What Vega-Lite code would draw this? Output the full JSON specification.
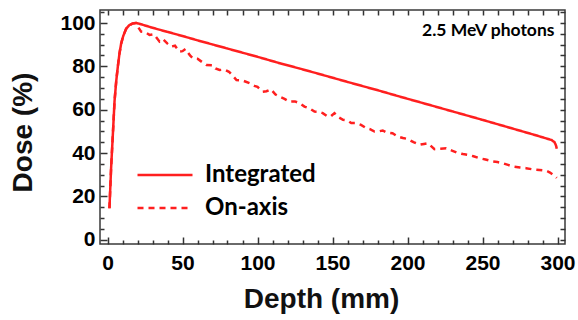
{
  "$schema": "https://vega.github.io/schema/vega-lite/v6.json",
  "width": 465,
  "height": 234,
  "autosize": {"type": "none"},
  "padding": {"left": 100, "top": 10, "right": 13, "bottom": 76},
  "background": "white",
  "config": {
    "view": {"stroke": "#3a3a3a", "strokeWidth": 1.5},
    "axis": {
      "domain": false,
      "grid": false,
      "labelFont": "Liberation Sans",
      "labelFontWeight": "bold",
      "labelFontSize": 21,
      "labelColor": "#000000",
      "titleFont": "Liberation Sans",
      "titleFontWeight": "bold",
      "titleFontSize": 28,
      "titleColor": "#111111"
    },
    "legend": {
      "labelFont": "Lato",
      "labelFontWeight": "bold",
      "labelFontSize": 24,
      "labelColor": "#000000"
    }
  },
  "datasets": {
    "integrated": [
      {"depth": 1.3, "dose": 14.5, "series": "Integrated"},
      {"depth": 2.4, "dose": 33, "series": "Integrated"},
      {"depth": 3.6, "dose": 49, "series": "Integrated"},
      {"depth": 4.7, "dose": 64, "series": "Integrated"},
      {"depth": 5.8, "dose": 73, "series": "Integrated"},
      {"depth": 6.9, "dose": 80, "series": "Integrated"},
      {"depth": 8, "dose": 86, "series": "Integrated"},
      {"depth": 9.1, "dose": 90.5, "series": "Integrated"},
      {"depth": 10.5, "dose": 94, "series": "Integrated"},
      {"depth": 12.4, "dose": 97.3, "series": "Integrated"},
      {"depth": 14.5, "dose": 99, "series": "Integrated"},
      {"depth": 16.9, "dose": 99.8, "series": "Integrated"},
      {"depth": 19, "dose": 100, "series": "Integrated"},
      {"depth": 21, "dose": 99.7, "series": "Integrated"},
      {"depth": 30, "dose": 97.8, "series": "Integrated"},
      {"depth": 40, "dose": 95.9, "series": "Integrated"},
      {"depth": 50, "dose": 94, "series": "Integrated"},
      {"depth": 60, "dose": 92, "series": "Integrated"},
      {"depth": 70, "dose": 90.1, "series": "Integrated"},
      {"depth": 80, "dose": 88.2, "series": "Integrated"},
      {"depth": 90, "dose": 86.3, "series": "Integrated"},
      {"depth": 100, "dose": 84.4, "series": "Integrated"},
      {"depth": 115, "dose": 81.4, "series": "Integrated"},
      {"depth": 128, "dose": 79, "series": "Integrated"},
      {"depth": 140, "dose": 76.7, "series": "Integrated"},
      {"depth": 160, "dose": 72.8, "series": "Integrated"},
      {"depth": 181, "dose": 68.8, "series": "Integrated"},
      {"depth": 195, "dose": 66, "series": "Integrated"},
      {"depth": 210, "dose": 63.1, "series": "Integrated"},
      {"depth": 230, "dose": 59.2, "series": "Integrated"},
      {"depth": 250, "dose": 55.3, "series": "Integrated"},
      {"depth": 270, "dose": 51.3, "series": "Integrated"},
      {"depth": 285, "dose": 48.3, "series": "Integrated"},
      {"depth": 296, "dose": 46, "series": "Integrated"},
      {"depth": 298, "dose": 45, "series": "Integrated"},
      {"depth": 299, "dose": 43.5, "series": "Integrated"},
      {"depth": 299.5, "dose": 42, "series": "Integrated"}
    ],
    "onaxis": [
      {"depth": 1.3, "dose": 14.5, "series": "On-axis"},
      {"depth": 2.4, "dose": 33, "series": "On-axis"},
      {"depth": 3.6, "dose": 49, "series": "On-axis"},
      {"depth": 4.7, "dose": 64, "series": "On-axis"},
      {"depth": 5.8, "dose": 73, "series": "On-axis"},
      {"depth": 6.9, "dose": 80, "series": "On-axis"},
      {"depth": 8, "dose": 86, "series": "On-axis"},
      {"depth": 9.1, "dose": 90.5, "series": "On-axis"},
      {"depth": 10.5, "dose": 94, "series": "On-axis"},
      {"depth": 12.4, "dose": 97.3, "series": "On-axis"},
      {"depth": 14.5, "dose": 99, "series": "On-axis"},
      {"depth": 16.9, "dose": 99.8, "series": "On-axis"},
      {"depth": 19, "dose": 100, "series": "On-axis"},
      {"depth": 21, "dose": 97.5, "series": "On-axis"},
      {"depth": 22.4, "dose": 96, "series": "On-axis"},
      {"depth": 25, "dose": 95.8, "series": "On-axis"},
      {"depth": 28, "dose": 94.5, "series": "On-axis"},
      {"depth": 31, "dose": 94.8, "series": "On-axis"},
      {"depth": 34.7, "dose": 91.4, "series": "On-axis"},
      {"depth": 37, "dose": 92.5, "series": "On-axis"},
      {"depth": 40, "dose": 90.5, "series": "On-axis"},
      {"depth": 42.4, "dose": 89.1, "series": "On-axis"},
      {"depth": 45, "dose": 89.5, "series": "On-axis"},
      {"depth": 48, "dose": 86.8, "series": "On-axis"},
      {"depth": 50, "dose": 87, "series": "On-axis"},
      {"depth": 52, "dose": 88, "series": "On-axis"},
      {"depth": 55, "dose": 85, "series": "On-axis"},
      {"depth": 57, "dose": 83.7, "series": "On-axis"},
      {"depth": 60, "dose": 83.5, "series": "On-axis"},
      {"depth": 63, "dose": 82, "series": "On-axis"},
      {"depth": 66, "dose": 80.6, "series": "On-axis"},
      {"depth": 70, "dose": 80.5, "series": "On-axis"},
      {"depth": 72, "dose": 79, "series": "On-axis"},
      {"depth": 74.7, "dose": 78.3, "series": "On-axis"},
      {"depth": 78, "dose": 78.5, "series": "On-axis"},
      {"depth": 81, "dose": 77.5, "series": "On-axis"},
      {"depth": 83, "dose": 76, "series": "On-axis"},
      {"depth": 86, "dose": 73.7, "series": "On-axis"},
      {"depth": 90, "dose": 73.5, "series": "On-axis"},
      {"depth": 94.7, "dose": 72.2, "series": "On-axis"},
      {"depth": 98, "dose": 71, "series": "On-axis"},
      {"depth": 100, "dose": 70.5, "series": "On-axis"},
      {"depth": 103.5, "dose": 68.3, "series": "On-axis"},
      {"depth": 106, "dose": 68.5, "series": "On-axis"},
      {"depth": 109, "dose": 69.4, "series": "On-axis"},
      {"depth": 112, "dose": 67, "series": "On-axis"},
      {"depth": 114.7, "dose": 66, "series": "On-axis"},
      {"depth": 118, "dose": 65, "series": "On-axis"},
      {"depth": 121.3, "dose": 63.7, "series": "On-axis"},
      {"depth": 125, "dose": 63.8, "series": "On-axis"},
      {"depth": 128, "dose": 63, "series": "On-axis"},
      {"depth": 131.3, "dose": 61.4, "series": "On-axis"},
      {"depth": 135, "dose": 60.5, "series": "On-axis"},
      {"depth": 138, "dose": 59.1, "series": "On-axis"},
      {"depth": 141, "dose": 59, "series": "On-axis"},
      {"depth": 143.5, "dose": 58.4, "series": "On-axis"},
      {"depth": 146.9, "dose": 56.8, "series": "On-axis"},
      {"depth": 149, "dose": 57, "series": "On-axis"},
      {"depth": 151.3, "dose": 58.4, "series": "On-axis"},
      {"depth": 154, "dose": 56.5, "series": "On-axis"},
      {"depth": 157, "dose": 55.3, "series": "On-axis"},
      {"depth": 160, "dose": 55, "series": "On-axis"},
      {"depth": 162.5, "dose": 53.8, "series": "On-axis"},
      {"depth": 166, "dose": 53.8, "series": "On-axis"},
      {"depth": 169, "dose": 53, "series": "On-axis"},
      {"depth": 172.5, "dose": 51.5, "series": "On-axis"},
      {"depth": 175, "dose": 51, "series": "On-axis"},
      {"depth": 178, "dose": 49.9, "series": "On-axis"},
      {"depth": 181, "dose": 50, "series": "On-axis"},
      {"depth": 183.5, "dose": 50.4, "series": "On-axis"},
      {"depth": 186, "dose": 49.5, "series": "On-axis"},
      {"depth": 190, "dose": 49.1, "series": "On-axis"},
      {"depth": 193.5, "dose": 47.6, "series": "On-axis"},
      {"depth": 197, "dose": 46.9, "series": "On-axis"},
      {"depth": 200, "dose": 46.5, "series": "On-axis"},
      {"depth": 204, "dose": 45, "series": "On-axis"},
      {"depth": 208, "dose": 43.8, "series": "On-axis"},
      {"depth": 211, "dose": 44.2, "series": "On-axis"},
      {"depth": 213.6, "dose": 44.5, "series": "On-axis"},
      {"depth": 218, "dose": 41.8, "series": "On-axis"},
      {"depth": 222, "dose": 42, "series": "On-axis"},
      {"depth": 225.8, "dose": 42.2, "series": "On-axis"},
      {"depth": 230, "dose": 41, "series": "On-axis"},
      {"depth": 233.6, "dose": 40, "series": "On-axis"},
      {"depth": 237, "dose": 39.5, "series": "On-axis"},
      {"depth": 240, "dose": 39.2, "series": "On-axis"},
      {"depth": 244, "dose": 38.5, "series": "On-axis"},
      {"depth": 248, "dose": 37.6, "series": "On-axis"},
      {"depth": 252, "dose": 37, "series": "On-axis"},
      {"depth": 257, "dose": 36.1, "series": "On-axis"},
      {"depth": 260, "dose": 35.8, "series": "On-axis"},
      {"depth": 263.5, "dose": 35.3, "series": "On-axis"},
      {"depth": 267, "dose": 34.5, "series": "On-axis"},
      {"depth": 270, "dose": 33.8, "series": "On-axis"},
      {"depth": 275, "dose": 33.3, "series": "On-axis"},
      {"depth": 279, "dose": 33, "series": "On-axis"},
      {"depth": 283, "dose": 32.5, "series": "On-axis"},
      {"depth": 286, "dose": 32.3, "series": "On-axis"},
      {"depth": 290, "dose": 32, "series": "On-axis"},
      {"depth": 292.5, "dose": 31.8, "series": "On-axis"},
      {"depth": 295, "dose": 31, "series": "On-axis"},
      {"depth": 298, "dose": 29.5, "series": "On-axis"},
      {"depth": 299.5, "dose": 28.5, "series": "On-axis"}
    ],
    "note": [
      {"depth": 298, "dose": 96.5, "label": "2.5 MeV photons"}
    ]
  },
  "layer": [
    {
      "data": {"name": "integrated"},
      "mark": {"type": "line", "color": "#ff1f1f", "strokeWidth": 2.5},
      "encoding": {
        "x": {
          "field": "depth", "type": "quantitative",
          "scale": {"domain": [-5, 305], "nice": false, "zero": false},
          "axis": {
            "orient": "bottom", "title": "Depth (mm)",
            "values": [0, 50, 100, 150, 200, 250, 300],
            "ticks": true, "tickColor": "#333333", "tickWidth": 1.5,
            "offset": -7, "tickSize": 7, "labelPadding": 8, "titlePadding": 12, "titleX": 221
          }
        },
        "y": {
          "field": "dose", "type": "quantitative",
          "scale": {"domain": [-2, 106], "nice": false, "zero": false},
          "axis": {
            "orient": "left", "title": "Dose (%)",
            "values": [0, 20, 40, 60, 80, 100],
            "ticks": true, "tickColor": "#333333", "tickWidth": 1.5,
            "offset": -7, "tickSize": 7, "labelPadding": 5, "titlePadding": 22, "titleY": 122
          }
        },
        "strokeDash": {
          "field": "series", "type": "nominal",
          "scale": {"domain": ["Integrated", "On-axis"], "range": [[1, 0], [6, 5]]},
          "legend": {
            "orient": "none", "legendX": 53, "legendY": 153,
            "title": null, "symbolType": "M-5,0H5", "symbolSize": 121,
            "symbolStrokeWidth": 2.5, "symbolStrokeColor": "#ff1f1f",
            "labelOffset": 28, "rowPadding": 9
          }
        }
      }
    },
    {
      "data": {"name": "onaxis"},
      "mark": {"type": "line", "color": "#ff1f1f", "strokeWidth": 2.5},
      "encoding": {
        "x": {
          "field": "depth", "type": "quantitative",
          "axis": {
            "orient": "bottom", "title": null, "labels": false,
            "values": [10, 20, 30, 40, 60, 70, 80, 90, 110, 120, 130, 140, 160, 170, 180, 190, 210, 220, 230, 240, 260, 270, 280, 290],
            "ticks": true, "tickColor": "#333333", "tickWidth": 1.5,
            "offset": -4, "tickSize": 4
          }
        },
        "y": {
          "field": "dose", "type": "quantitative",
          "axis": {
            "orient": "left", "title": null, "labels": false,
            "values": [5, 10, 15, 25, 30, 35, 45, 50, 55, 65, 70, 75, 85, 90, 95, 105],
            "ticks": true, "tickColor": "#333333", "tickWidth": 1.5,
            "offset": -4, "tickSize": 4
          }
        },
        "strokeDash": {"field": "series", "type": "nominal"}
      }
    },
    {
      "data": {"name": "note"},
      "mark": {"type": "text", "align": "right", "baseline": "middle", "font": "Lato", "fontWeight": "bold", "fontSize": 17.5, "color": "#000000"},
      "encoding": {
        "x": {
          "field": "depth", "type": "quantitative",
          "axis": {
            "orient": "top", "title": null, "labels": false,
            "values": [0, 10, 20, 30, 40, 50, 60, 70, 80, 90, 100, 110, 120, 130, 140, 150, 160, 170, 180, 190, 200, 210, 220, 230, 240, 250, 260, 270, 280, 290, 300],
            "ticks": true, "tickColor": "#333333", "tickWidth": 1.5,
            "offset": -5, "tickSize": 5
          }
        },
        "y": {
          "field": "dose", "type": "quantitative",
          "axis": {
            "orient": "right", "title": null, "labels": false,
            "values": [0, 5, 10, 15, 20, 25, 30, 35, 40, 45, 50, 55, 60, 65, 70, 75, 80, 85, 90, 95, 100, 105],
            "ticks": true, "tickColor": "#333333", "tickWidth": 1.5,
            "offset": -5, "tickSize": 5
          }
        },
        "text": {"field": "label", "type": "nominal"}
      }
    }
  ],
  "resolve": {"axis": {"x": "independent", "y": "independent"}}
}
